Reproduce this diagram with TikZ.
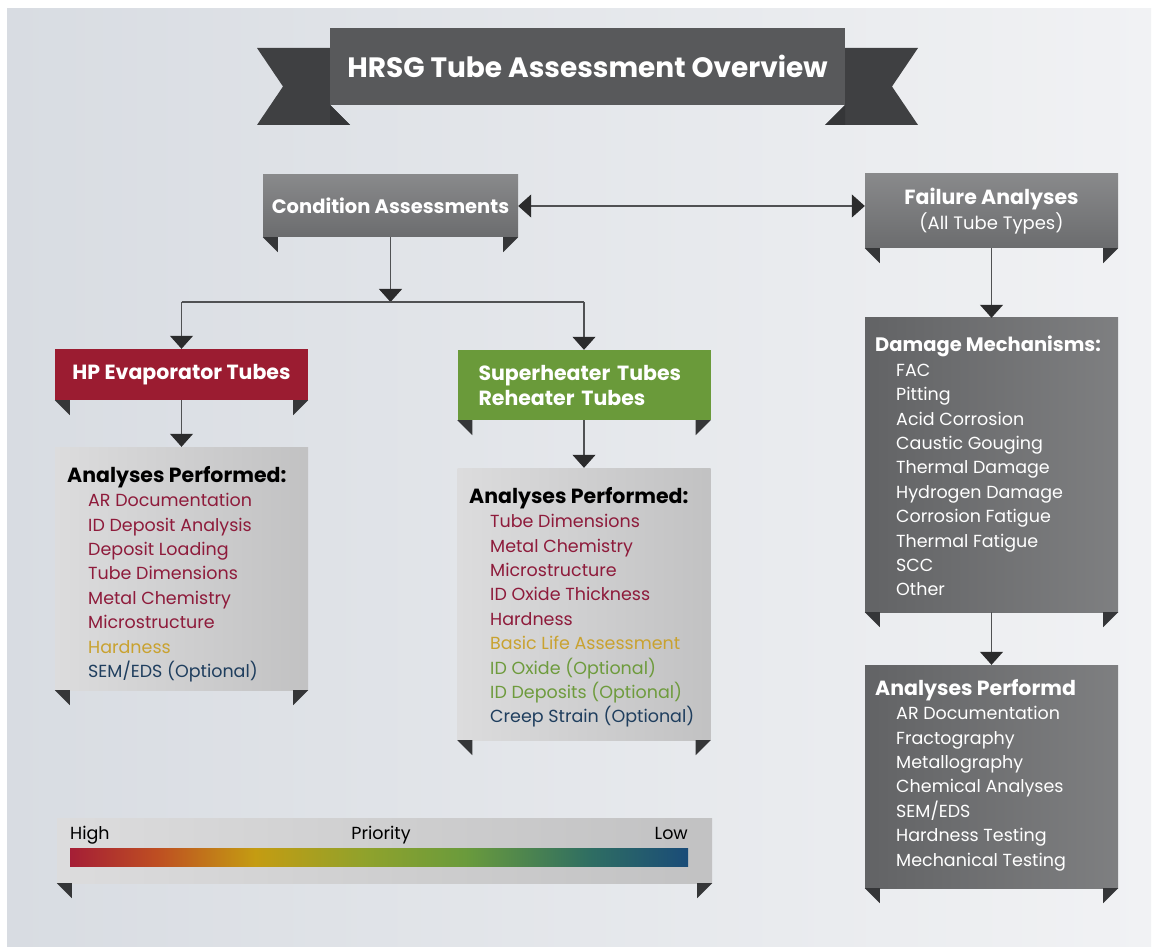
\documentclass[tikz,border=0pt]{standalone}
\usepackage{fontspec}
\setmainfont{Poppins}
\usetikzlibrary{arrows.meta}
\pgfdeclarelayer{bg}
\pgfsetlayers{bg,main}
\definecolor{bgleft}{HTML}{D8DCE2}
\definecolor{bgright}{HTML}{F1F2F4}
\definecolor{ribbon}{HTML}{58595B}
\definecolor{ribbontail}{HTML}{3F4042}
\definecolor{folddark}{HTML}{353638}
\definecolor{boxgrey}{HTML}{6B6C6E}
\definecolor{boxdark}{HTML}{626365}
\definecolor{boxlight}{HTML}{DCDCDD}
\definecolor{hpred}{HTML}{9B1C31}
\definecolor{shgreen}{HTML}{6A9A3A}
\definecolor{txtred}{HTML}{8E1B3B}
\definecolor{txtgold}{HTML}{C9A230}
\definecolor{txtgreen}{HTML}{6E9B3D}
\definecolor{txtblue}{HTML}{1F3E5E}
\definecolor{arrowdark}{HTML}{2B2B2C}
\definecolor{linegrey}{HTML}{505153}
\definecolor{barA}{HTML}{A51E36}
\definecolor{barB}{HTML}{BE4E22}
\definecolor{barC}{HTML}{C49C12}
\definecolor{barD}{HTML}{8FA22C}
\definecolor{barE}{HTML}{6A9B3C}
\definecolor{barF}{HTML}{2F6E62}
\definecolor{barG}{HTML}{1A4C78}
\pgfdeclarehorizontalshading{priority}{100bp}{color(0bp)=(barA); color(25bp)=(barA); color(32bp)=(barB);
  color(40bp)=(barC); color(49bp)=(barD); color(57bp)=(barE); color(67bp)=(barF); color(75bp)=(barG); color(100bp)=(barG)}
\newcommand{\listline}[2]{\hspace*{21pt}\textcolor{#1}{#2}}
\newcommand{\listhead}[1]{{\bfseries\fontsize{20.5}{24.4}\selectfont #1}}

\begin{document}
\begin{tikzpicture}[x=1pt,y=-1pt,>={Triangle[width=23pt,length=13pt,color=arrowdark]},
    box/.style={minimum width=253,inner sep=0,text=white,font=\bfseries\fontsize{20.5}{25}\selectfont},
    greybox/.style={box,top color=boxgrey!80!white,bottom color=boxgrey},
    darkbox/.style={box,left color=boxdark,right color=boxdark!82!white},
    lightbox/.style={box,left color=boxlight,right color=boxlight!88!black},
    listtext/.style={anchor=north west,inner sep=0,align=left,font=\fontsize{17.5}{24.4}\selectfont},
    arr/.style={draw=linegrey,line width=1.1pt},
    longshadow/.style={fill=black,fill opacity=0.05}]
        %
        \useasboundingbox (0,0) rectangle (1156,949);
        \fill[white] (0,0) rectangle (1156,949);
        \shade[left color=bgleft,right color=bgright] (7,9) rectangle (1151,946);
        %
        % title ribbon
        \fill[ribbontail] (257,48) -- (330,48) -- (330,105) -- (350,125) -- (257,125) -- (283,86.5) -- cycle;
        \fill[ribbontail] (918,48) -- (845,48) -- (845,105) -- (825,125) -- (918,125) -- (892,86.5) -- cycle;
        \fill[folddark] (330,105) -- (350,125) -- (330,125) -- cycle;
        \fill[folddark] (845,105) -- (825,125) -- (845,125) -- cycle;
        \node[box,fill=ribbon,minimum width=515,minimum height=77,font=\bfseries\fontsize{28}{32}\selectfont] (title) at (587.5,66.5) {HRSG Tube Assessment Overview};
        %
        \node[greybox,minimum width=255,minimum height=62,font=\bfseries\fontsize{19.5}{25}\selectfont] (cond) at (390.5,206) {Condition Assessments};
        \node[greybox,minimum height=74,align=center] (fail) at (991.5,211) {Failure Analyses\\{\mdseries\fontsize{18}{22}\selectfont(All Tube Types)}};
        \node[box,fill=hpred,minimum height=51] (hp) at (181.5,374.5) {HP Evaporator Tubes};
        \node[box,fill=shgreen,minimum height=70,text width=211,align=left] (sh) at (584,385) {Superheater Tubes\\Reheater Tubes};
        \node[lightbox,minimum height=243] (hpa) at (181.5,568.5) {};
        \node[lightbox,minimum height=272] (sha) at (584,604) {};
        \node[darkbox,minimum height=294] (dmg) at (991.5,465) {};
        \node[darkbox,minimum height=223] (anp) at (991.5,776.5) {};
        \node[lightbox,minimum width=655,minimum height=65] (prio) at (384.5,850.5) {};
        %
        % long shadows and folds
        \begin{pgfonlayer}{bg}
        \foreach \n in {title,cond,fail,hp,sh,hpa,sha,dmg,anp,prio}
            \fill[longshadow] (\n.north west) -- (\n.north east) -- (\n.south east) -- ([shift={(-140,140)}]\n.south east) -- ([shift={(-140,140)}]\n.south west) -- ([shift={(-140,140)}]\n.north west) -- cycle;
        \end{pgfonlayer}
        \foreach \n in {cond,fail,hp,sh,hpa,sha,dmg,anp,prio} {
            \fill[folddark] (\n.south west) -- ++(15,0) -- ++(0,15) -- cycle;
            \fill[folddark] (\n.south east) -- ++(-15,0) -- ++(0,15) -- cycle;
        }
        %
        % lists
        \node[listtext] (hplist) at (67,466) {\listhead{Analyses Performed:}\\
            \listline{txtred}{AR Documentation}\\
            \listline{txtred}{ID Deposit Analysis}\\
            \listline{txtred}{Deposit Loading}\\
            \listline{txtred}{Tube Dimensions}\\
            \listline{txtred}{Metal Chemistry}\\
            \listline{txtred}{Microstructure}\\
            \listline{txtgold}{Hardness}\\
            \listline{txtblue}{SEM/EDS (Optional)}};
        \node[listtext] (shlist) at (469,487) {\listhead{Analyses Performed:}\\
            \listline{txtred}{Tube Dimensions}\\
            \listline{txtred}{Metal Chemistry}\\
            \listline{txtred}{Microstructure}\\
            \listline{txtred}{ID Oxide Thickness}\\
            \listline{txtred}{Hardness}\\
            \listline{txtgold}{Basic Life Assessment}\\
            \listline{txtgreen}{ID Oxide (Optional)}\\
            \listline{txtgreen}{ID Deposits (Optional)}\\
            \listline{txtblue}{Creep Strain (Optional)}};
        \node[listtext,text=white] (dmglist) at (875,336) {{\bfseries\fontsize{19.5}{24.4}\selectfont Damage Mechanisms:}\\
            \listline{white}{FAC}\\
            \listline{white}{Pitting}\\
            \listline{white}{Acid Corrosion}\\
            \listline{white}{Caustic Gouging}\\
            \listline{white}{Thermal Damage}\\
            \listline{white}{Hydrogen Damage}\\
            \listline{white}{Corrosion Fatigue}\\
            \listline{white}{Thermal Fatigue}\\
            \listline{white}{SCC}\\
            \listline{white}{Other}};
        \node[listtext,text=white] (anplist) at (875,679) {\listhead{Analyses Performd}\\
            \listline{white}{AR Documentation}\\
            \listline{white}{Fractography}\\
            \listline{white}{Metallography}\\
            \listline{white}{Chemical Analyses}\\
            \listline{white}{SEM/EDS}\\
            \listline{white}{Hardness Testing}\\
            \listline{white}{Mechanical Testing}};
        %
        % priority scale
        \node[minimum width=618,minimum height=18,inner sep=0,shading=priority] (bar) at (379,857) {};
        \node[anchor=base west,inner sep=0,font=\fontsize{17.5}{20}\selectfont] (high) at (70,839) {High};
        \node[anchor=base,inner sep=0,font=\fontsize{17.5}{20}\selectfont] (priolbl) at (381,839) {Priority};
        \node[anchor=base east,inner sep=0,font=\fontsize{17.5}{20}\selectfont] (low) at (688,839) {Low};
        %
        % connectors
        \coordinate (split) at (390.5,302);
        \draw[arr,<->] (cond) -- (fail.west |- cond);
        \draw[arr,->] (cond) -- (split);
        \draw[arr] (hp.north |- split) -- (sh.north |- split);
        \draw[arr,->] (hp.north |- split) -- (hp);
        \draw[arr,->] (sh.north |- split) -- (sh);
        \draw[arr,->] (hp) -- (hpa);
        \draw[arr,->] (sh) -- (sha);
        \draw[arr,->] (fail) -- (dmg);
        \draw[arr,->] (dmg) -- (anp);
      \end{tikzpicture}
\end{document}
